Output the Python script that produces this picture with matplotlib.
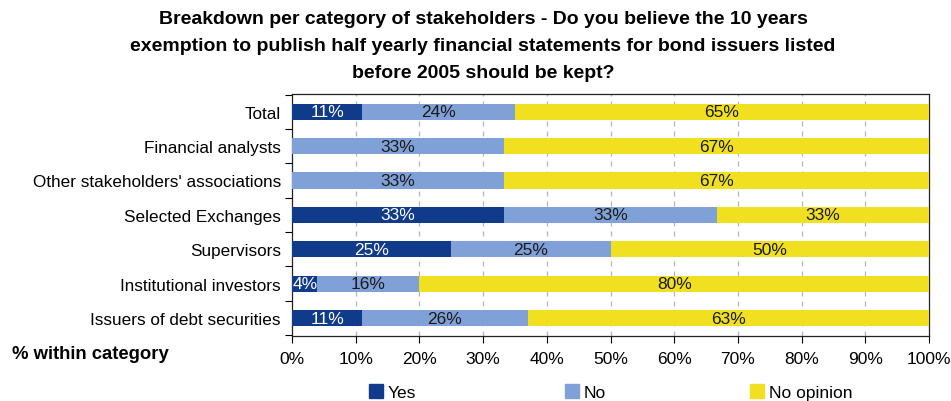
import numpy as np
import matplotlib
matplotlib.use("Agg")
import matplotlib.pyplot as plt
from matplotlib.patches import Patch

plt.rcParams['font.family'] = ['Liberation Sans', 'DejaVu Sans']

categories = ["Total", "Financial analysts", "Other stakeholders' associations",
              "Selected Exchanges", "Supervisors", "Institutional investors",
              "Issuers of debt securities"]
yes = [11, 0, 0, 100 / 3, 25, 4, 11]
no = [24, 100 / 3, 100 / 3, 100 / 3, 25, 16, 26]
no_opinion = [65, 200 / 3, 200 / 3, 100 / 3, 50, 80, 63]
series_names = ["Yes", "No", "No opinion"]
colors = ["#103a8a", "#7fa1d8", "#f0e020"]
text_colors = ["white", "#1a1a1a", "#1a1a1a"]

fig = plt.figure(figsize=(9.51, 4.02), dpi=100)
ax = fig.add_axes([0.307, 0.162, 0.670, 0.602])

y = np.arange(len(categories))
left = np.zeros(len(categories))
for vals, name, col, tc in zip([yes, no, no_opinion], series_names, colors, text_colors):
    vals = np.array(vals, dtype=float)
    ax.barh(y, vals, left=left, height=0.47, color=col, label=name, zorder=3)
    for yi, l, v in zip(y, left, vals):
        if v > 0:
            ax.text(l + v / 2, yi, f"{round(v)}%", ha="center", va="center",
                    fontsize=12.5, color=tc, zorder=4)
    left += vals

ax.set_xlim(0, 100)
ax.set_ylim(6.52, -0.52)
ax.set_xticks(np.arange(0, 101, 10))
ax.set_xticklabels([f"{v}%" for v in range(0, 101, 10)], fontsize=12.5)
ax.set_yticks(y)
ax.set_yticklabels(categories, fontsize=12.3)
ax.set_yticks(np.arange(-0.5, 7, 1), minor=True)
ax.tick_params(axis="y", which="major", length=0, pad=8)
ax.tick_params(axis="y", which="minor", length=5, width=0.8, direction="out")
ax.tick_params(axis="x", length=5, width=0.8, direction="out", pad=6)

# dashed vertical gridlines every 10%
for v in range(10, 100, 10):
    ax.axvline(v, color="#b5b5b5", linestyle=(0, (4, 4)), linewidth=0.9, zorder=1)

for s in ax.spines.values():
    s.set_linewidth(0.9)
    s.set_color("#222222")

fig.text(0.508, 0.972, "Breakdown per category of stakeholders - Do you believe the 10 years\n"
         "exemption to publish half yearly financial statements for bond issuers listed\n"
         "before 2005 should be kept?", ha="center", va="top", fontsize=14,
         fontweight="bold", linespacing=1.75)
fig.text(0.013, 0.117, "% within category", fontsize=13.3, fontweight="bold", va="center")

handles = [Patch(color=c) for c in colors]
for h, name, xpos in zip(handles, series_names, [0.388, 0.594, 0.789]):
    fig.legend([h], [name], loc="center left", bbox_to_anchor=(xpos, 0.022),
               frameon=False, fontsize=12.5, handlelength=0.8, handleheight=0.8,
               handletextpad=0.3, borderaxespad=0, borderpad=0)

fig.savefig("out.png", dpi=100)
